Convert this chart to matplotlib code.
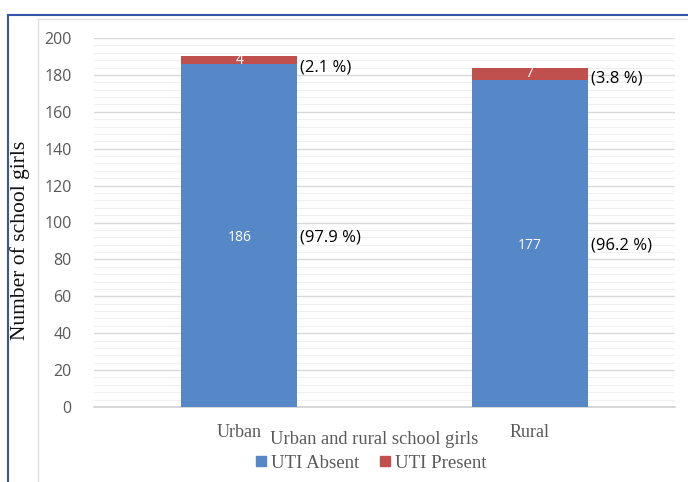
import matplotlib.pyplot as plt
from matplotlib.lines import Line2D
from matplotlib.ticker import MultipleLocator

groups = ["Urban", "Rural"]
absent = [186, 177]
present = [4, 7]
absent_pct = ["(97.9 %)", "(96.2 %)"]
present_pct = ["(2.1 %)", "(3.8 %)"]

blue = "#5687C7"
red = "#C0504D"
sans = ["Open Sans", "DejaVu Sans"]
serif = ["Liberation Serif", "DejaVu Serif"]

fig = plt.figure(figsize=(6.88, 4.82), dpi=100)
ax = fig.add_axes([94 / 688, 1 - 407 / 482, 581 / 688, 369 / 482])

x = list(range(len(groups)))
ax.bar(x, absent, width=0.4, color=blue, zorder=3)
ax.bar(x, present, width=0.4, bottom=absent, color=red, zorder=3)

for i in x:
    ax.text(i, absent[i] / 2 - 1, str(absent[i]), color="white", ha="center",
            va="center", fontsize=10, family=sans, zorder=4)
    ax.text(i, absent[i] + present[i] / 2, str(present[i]), color="white",
            ha="center", va="center", fontsize=10, family=sans, zorder=4)
    ax.text(i + 0.21, absent[i] / 2 - 1, absent_pct[i], ha="left", va="center",
            fontsize=12, family=sans, color="#000000")
    ax.text(i + 0.21, absent[i] + present[i] - 6, present_pct[i], ha="left",
            va="center", fontsize=12, family=sans, color="#000000")

ax.set_xlim(-0.5, 1.5)
ax.set_ylim(0, 200)
ax.yaxis.set_major_locator(MultipleLocator(20))
ax.yaxis.set_minor_locator(MultipleLocator(4))
ax.grid(axis="y", which="major", color="#D9D9D9", lw=1, zorder=0)
ax.grid(axis="y", which="minor", color="#F0F0F0", lw=0.8, zorder=0)
for s in ["top", "right", "left"]:
    ax.spines[s].set_visible(False)
ax.spines["bottom"].set_color("#D0D0D0")
ax.spines["bottom"].set_linewidth(1.2)
ax.tick_params(axis="both", which="both", length=0)
ax.tick_params(axis="y", pad=16, labelsize=11.5, labelcolor="#595959")
ax.set_yticks(range(0, 201, 20))
ax.set_yticklabels([str(v) for v in range(0, 201, 20)], family=sans)
ax.set_xticks(x)
ax.set_xticklabels(groups, family=serif, fontsize=13, color="#595959")
ax.tick_params(axis="x", pad=12)

fig.text(20 / 688, 1 - 240 / 482, "Number of school girls", rotation=90,
         ha="center", va="center", fontsize=15.5, family=serif, color="#111111")
fig.text(374 / 688, 1 - 439 / 482, "Urban and rural school girls",
         ha="center", va="center", fontsize=13.3, family=serif, color="#595959")

handles = [Line2D([], [], marker="s", ls="", color=blue, markersize=7),
           Line2D([], [], marker="s", ls="", color=red, markersize=7)]
fig.legend(handles, ["UTI Absent", "UTI Present"], loc="center",
           bbox_to_anchor=(370 / 688, 1 - 463 / 482), ncol=2, frameon=False,
           prop={"family": serif, "size": 13.5}, labelcolor="#595959",
           handletextpad=0.1, columnspacing=1.0, handlelength=0.8)

# frame lines
fig.add_artist(Line2D([8 / 688, 8 / 688], [0, 1 - 15 / 482], color="#3556A8",
                      lw=1.5, transform=fig.transFigure))
fig.add_artist(Line2D([8 / 688, 1], [1 - 15 / 482, 1 - 15 / 482], color="#3556A8",
                      lw=1.5, transform=fig.transFigure))
fig.add_artist(Line2D([38 / 688, 38 / 688], [0, 1 - 19 / 482], color="#E0E0E0",
                      lw=1, transform=fig.transFigure))
fig.add_artist(Line2D([38 / 688, 1], [1 - 19 / 482, 1 - 19 / 482], color="#E0E0E0",
                      lw=1, transform=fig.transFigure))

fig.savefig("out.png", dpi=100)
